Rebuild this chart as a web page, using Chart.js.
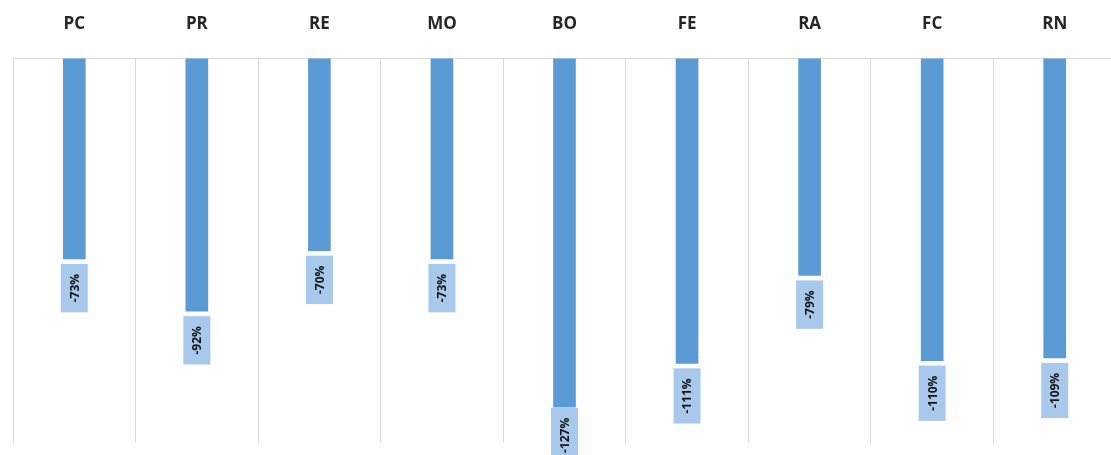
<!DOCTYPE html>
<html>
<head>
<meta charset="utf-8">
<script src="https://cdn.jsdelivr.net/npm/chart.js@4/dist/chart.umd.min.js"></script>
<style>
  html, body { margin: 0; padding: 0; background: #fff; overflow: hidden; }
  #wrap { width: 1116px; height: 455px; }
</style>
</head>
<body>
<div id="wrap"><canvas id="c" width="1116" height="455"></canvas></div>
<script>
// Change per indicator, in percent
const categories = ['PC', 'PR', 'RE', 'MO', 'BO', 'FE', 'RA', 'FC', 'RN'];
const changes = [-73, -92, -70, -73, -127, -111, -79, -110, -109];
const valueLabels = ['-73%', '-92%', '-70%', '-73%', '-127%', '-111%', '-79%', '-110%', '-109%'];

// Value tags drawn in light boxes just below each bar end, text running upward
const valueTags = {
  id: 'valueTags',
  afterDatasetsDraw(chart) {
    const ctx = chart.ctx;
    const meta = chart.getDatasetMeta(0);
    const H = chart.height;
    ctx.save();
    ctx.font = 'bold 12px "Open Sans", "DejaVu Sans", sans-serif';
    meta.data.forEach((bar, i) => {
      const txt = valueLabels[i];
      const tw = ctx.measureText(txt).width;
      const w = 27, h = tw + 20;
      let top = bar.y + 5;
      if (top + h > H + 8) top = H + 8 - h;
      ctx.fillStyle = '#a9c9ec';
      ctx.fillRect(bar.x - w / 2, top, w, h);
      ctx.translate(bar.x, top + h / 2);
      ctx.rotate(-Math.PI / 2);
      ctx.fillStyle = '#141414';
      ctx.textAlign = 'center';
      ctx.textBaseline = 'middle';
      ctx.fillText(txt, 0, 1);
      ctx.setTransform(1, 0, 0, 1, 0, 0);
    });
    ctx.restore();
  }
};

new Chart(document.getElementById('c'), {
  type: 'bar',
  data: {
    labels: categories,
    datasets: [{
      data: changes,
      backgroundColor: '#5b9bd5',
      borderWidth: 0,
      barThickness: 22,
      categoryPercentage: 1,
      barPercentage: 1
    }]
  },
  options: {
    responsive: false,
    animation: false,
    devicePixelRatio: 1,
    layout: { padding: { left: 13, right: 0, top: -10, bottom: 12 } },
    plugins: { legend: { display: false }, tooltip: { enabled: false } },
    scales: {
      x: {
        position: 'top',
        offset: true,
        grid: { offset: true, color: '#d9d9d9', lineWidth: 1, drawTicks: false },
        border: { display: true, color: '#d9d9d9' },
        ticks: {
          color: '#262626',
          padding: 24,
          font: { family: '"Open Sans", "DejaVu Sans", sans-serif', size: 17, weight: 'bold' }
        }
      },
      y: {
        display: false,
        min: -140,
        max: 0
      }
    }
  },
  plugins: [valueTags]
});
</script>
</body>
</html>
